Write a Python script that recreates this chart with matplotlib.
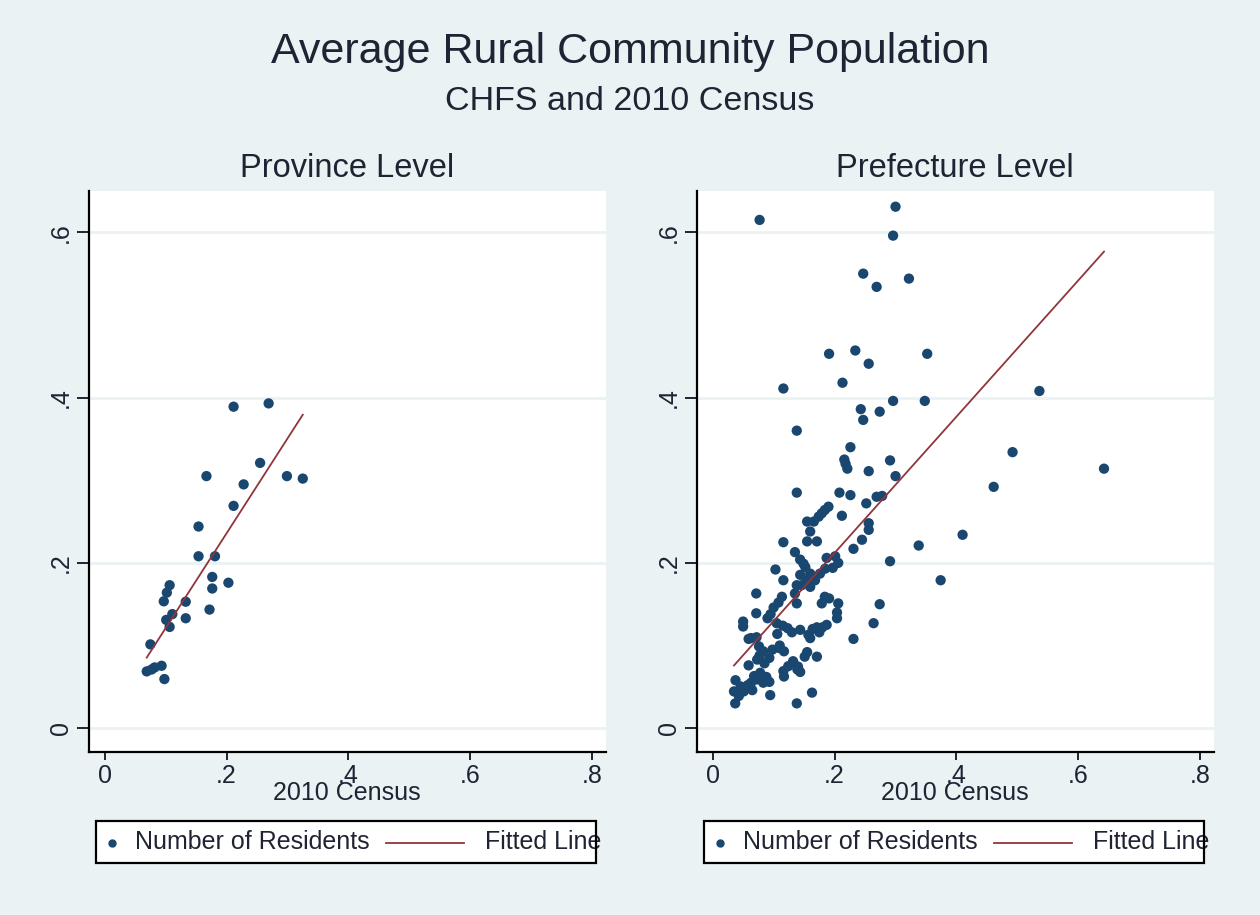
import numpy as np
import matplotlib.pyplot as plt
from matplotlib.patches import Rectangle
from matplotlib.lines import Line2D

plt.rcParams['font.family'] = ['Liberation Sans', 'DejaVu Sans']

NAVY = '#1a476f'
MAROON = '#90353b'
BG = '#eaf2f3'
TXT = '#1e2433'

# province level: census share vs CHFS average
prov_census = [0.2115, 0.269, 0.255, 0.167, 0.228, 0.299, 0.325, 0.2115, 0.154, 0.154,
               0.181, 0.1765, 0.1765, 0.203, 0.1066, 0.102, 0.097, 0.133, 0.172, 0.111,
               0.101, 0.133, 0.1066, 0.075, 0.069, 0.082, 0.0934, 0.098, 0.077]
prov_chfs = [0.389, 0.393, 0.321, 0.305, 0.295, 0.305, 0.302, 0.269, 0.244, 0.208,
             0.208, 0.183, 0.169, 0.176, 0.173, 0.164, 0.1535, 0.153, 0.1435, 0.138,
             0.131, 0.133, 0.1225, 0.1014, 0.0687, 0.0735, 0.0755, 0.0594, 0.071]

# prefecture level
pref_census = [
    0.077, 0.300, 0.296, 0.247, 0.269, 0.322, 0.191, 0.234, 0.352, 0.256,
    0.116, 0.213, 0.536, 0.296, 0.348, 0.243, 0.274, 0.247, 0.138, 0.226,
    0.216, 0.221, 0.291, 0.256, 0.300, 0.492, 0.642, 0.461, 0.138, 0.208,
    0.226, 0.269, 0.278, 0.218, 0.252, 0.190, 0.184, 0.179, 0.174, 0.212,
    0.155, 0.166, 0.256, 0.256, 0.160, 0.155, 0.171, 0.116, 0.245, 0.231,
    0.338, 0.410, 0.291, 0.374, 0.103, 0.116, 0.135, 0.1435, 0.149, 0.152,
    0.160, 0.1545, 0.146, 0.168, 0.176, 0.1845, 0.187, 0.201, 0.206, 0.197,
    0.1436, 0.138, 0.135, 0.160,
    0.0715, 0.1136, 0.108, 0.100, 0.095, 0.090,
    0.138, 0.179, 0.184, 0.191, 0.206, 0.204, 0.204,
    0.274, 0.264, 0.231,
    0.0715, 0.050, 0.050,
    0.105, 0.115, 0.123, 0.130, 0.106,
    0.1436, 0.157, 0.164, 0.171, 0.180, 0.175, 0.187, 0.160,
    0.059, 0.063, 0.072,
    0.076, 0.083, 0.077, 0.073, 0.085, 0.093, 0.098, 0.109, 0.110, 0.117,
    0.155, 0.151, 0.140, 0.171,
    0.132, 0.124, 0.116, 0.139, 0.117,
    0.059,
    0.0375, 0.046, 0.035, 0.043, 0.051, 0.063, 0.068, 0.0575, 0.065,
    0.037,
    0.078, 0.088, 0.093, 0.083, 0.0725,
    0.0944, 0.163, 0.138, 0.1436,
]
pref_chfs = [
    0.615, 0.631, 0.596, 0.550, 0.534, 0.544, 0.453, 0.457, 0.453, 0.441,
    0.411, 0.418, 0.408, 0.396, 0.396, 0.386, 0.383, 0.373, 0.360, 0.340,
    0.325, 0.314, 0.324, 0.311, 0.305, 0.334, 0.314, 0.292, 0.285, 0.285,
    0.282, 0.280, 0.281, 0.320, 0.272, 0.268, 0.264, 0.260, 0.256, 0.257,
    0.250, 0.250, 0.248, 0.240, 0.238, 0.226, 0.226, 0.225, 0.228, 0.217,
    0.221, 0.234, 0.202, 0.179, 0.192, 0.179, 0.213, 0.204, 0.199, 0.195,
    0.187, 0.179, 0.173, 0.179, 0.187, 0.193, 0.206, 0.208, 0.200, 0.194,
    0.1855, 0.173, 0.163, 0.171,
    0.163, 0.159, 0.152, 0.146, 0.138, 0.133,
    0.151, 0.151, 0.159, 0.157, 0.151, 0.140, 0.133,
    0.150, 0.127, 0.108,
    0.139, 0.129, 0.123,
    0.127, 0.124, 0.121, 0.116, 0.114,
    0.119, 0.113, 0.120, 0.122, 0.122, 0.116, 0.125, 0.109,
    0.108, 0.109, 0.110,
    0.099, 0.093, 0.088, 0.083, 0.0785, 0.085, 0.095, 0.097, 0.100, 0.093,
    0.092, 0.0865, 0.0745, 0.0865,
    0.081, 0.075, 0.069, 0.071, 0.0625,
    0.076,
    0.058, 0.0505, 0.0445, 0.039, 0.0445, 0.055, 0.063, 0.052, 0.046,
    0.030,
    0.067, 0.062, 0.056, 0.055, 0.059,
    0.040, 0.043, 0.030, 0.068,
]

# linear fits (intercept, slope)
prov_fit = [0.0062, 1.148]
pref_fit = [0.047, 0.825]

ticks = [0, 0.2, 0.4, 0.6, 0.8]
tick_labels = ['0', '.2', '.4', '.6', '.8']

fig = plt.figure(figsize=(12.6, 9.15), dpi=100, facecolor=BG)

fig.text(0.5, 0.9308, 'Average Rural Community Population', ha='center',
         va='baseline', fontsize=31, color=TXT)
fig.text(0.5, 0.8798, 'CHFS and 2010 Census', ha='center', va='baseline',
         fontsize=24.5, color=TXT)


def draw_legend(ax):
    tr = ax.transAxes
    yc = -0.162
    ax.add_patch(Rectangle((0.0145, -0.1988), 0.9665, 0.0754, transform=tr,
                           facecolor='white', edgecolor='none', clip_on=False, zorder=1))
    ax.add_line(Line2D([0.0453], [yc], transform=tr, marker='o', ms=5,
                       color=NAVY, clip_on=False, zorder=4))
    ax.text(0.0891, -0.1739, 'Number of Residents', transform=tr, ha='left',
            va='baseline', fontsize=18, color=TXT, zorder=4)
    ax.add_line(Line2D([0.5757, 0.726], [yc, yc], transform=tr, color=MAROON,
                       lw=1.3, clip_on=False, zorder=4))
    ax.text(0.766, -0.1739, 'Fitted Line', transform=tr, ha='left',
            va='baseline', fontsize=18, color=TXT, zorder=4)
    ax.add_patch(Rectangle((0.0145, -0.1988), 0.9665, 0.0754, transform=tr,
                           fill=False, edgecolor='black', lw=1.6, clip_on=False, zorder=6))


def panel(rect, title, x, y, fit):
    ax = fig.add_axes(rect)
    ax.set_facecolor('white')
    ax.set_axisbelow(True)
    ax.yaxis.grid(True, color=BG, lw=2)
    ax.scatter(x, y, s=55, color=NAVY, edgecolors='none', zorder=3)
    xs = np.array([min(x), max(x)])
    ax.plot(xs, fit[0] + fit[1] * xs, color=MAROON, lw=1.3, zorder=4)

    ax.set_xlim(-0.0265, 0.822)
    ax.set_ylim(-0.0286, 0.650)
    ax.set_xticks(ticks, tick_labels)
    ax.set_yticks(ticks[:4], tick_labels[:4])
    plt.setp(ax.get_yticklabels(), rotation=90, va='center')
    ax.tick_params(axis='x', length=6, width=1.4, pad=3, labelsize=18, colors=TXT)
    ax.tick_params(axis='y', length=8.5, width=1.4, pad=3, labelsize=18, colors=TXT)
    for s in ['top', 'right']:
        ax.spines[s].set_visible(False)
    for s in ['left', 'bottom']:
        ax.spines[s].set_linewidth(1.6)
        ax.spines[s].set_color('black')

    ax.set_xlabel('2010 Census', fontsize=18, color=TXT, va='baseline')
    ax.xaxis.set_label_coords(0.5, -0.086)
    ax.set_title(title, fontsize=23.5, color=TXT, y=1.0255, pad=0)
    draw_legend(ax)
    return ax


panel([0.07024, 0.17836, 0.4105, 0.6129], 'Province Level', prov_census, prov_chfs, prov_fit)
panel([0.55278, 0.17836, 0.4105, 0.6129], 'Prefecture Level', pref_census, pref_chfs, pref_fit)

fig.savefig('out.png', dpi=100, facecolor=BG)
